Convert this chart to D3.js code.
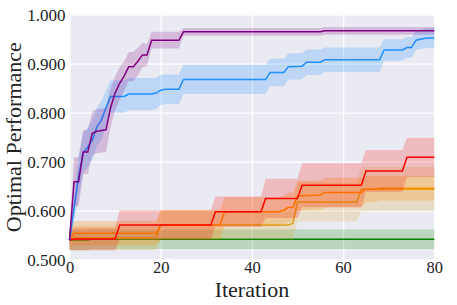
<!DOCTYPE html>
<html lang="en">
<head>
<meta charset="UTF-8">
<title>Optimal Performance</title>
<script src="https://cdn.jsdelivr.net/npm/d3@7"></script>
<style>
  body { margin: 0; background: #fff; }
</style>
</head>
<body>
<svg id="chart" width="457" height="305"></svg>
<script>
// vertices of each mean curve: [iteration, value, band half-width]
var greenPts = [[0,0.540,0.02],[4,0.540,0.02],[5,0.5416,0.02],[80,0.5416,0.02]];
var goldPts = [[0,0.540,0.02],[1,0.545,0.025],[19,0.545,0.025],[20,0.571,0.03],[48,0.571,0.03],[49,0.574,0.035],[50,0.618,0.04],[63,0.618,0.04],[64,0.644,0.045],[80,0.644,0.045]];
var orangePts = [[0,0.540,0.02],[1,0.554,0.025],[19,0.554,0.025],[20,0.571,0.03],[33,0.571,0.03],[34,0.598,0.03],[46,0.598,0.03],[47,0.601,0.03],[48,0.607,0.03],[49,0.607,0.03],[50,0.630,0.03],[55,0.632,0.03],[56,0.637,0.03],[64,0.637,0.03],[65,0.644,0.027],[67,0.644,0.027],[68,0.646,0.025],[80,0.646,0.025]];
var redPts = [[0,0.540,0.02],[1,0.542,0.023],[10,0.542,0.023],[11,0.571,0.03],[31,0.571,0.03],[32,0.598,0.031],[42,0.598,0.031],[43,0.625,0.04],[50,0.625,0.04],[51,0.652,0.045],[64,0.652,0.045],[65,0.681,0.043],[73,0.681,0.043],[74,0.709,0.04],[80,0.709,0.04]];
var bluePts = [[0,0.540,0.01],[2,0.670,0.04],[3,0.718,0.04],[4,0.730,0.04],[5,0.744,0.04],[6,0.771,0.04],[7,0.785,0.04],[8,0.810,0.035],[9,0.833,0.033],[12,0.833,0.033],[13,0.838,0.033],[18,0.838,0.033],[19,0.840,0.032],[20,0.846,0.031],[21,0.848,0.03],[24,0.848,0.03],[25,0.868,0.03],[43,0.868,0.03],[44,0.882,0.028],[47,0.882,0.028],[48,0.894,0.027],[51,0.895,0.027],[52,0.903,0.026],[55,0.903,0.026],[56,0.908,0.025],[68,0.908,0.025],[69,0.928,0.022],[73,0.928,0.022],[74,0.933,0.021],[75,0.933,0.021],[76,0.948,0.02],[78,0.952,0.02],[80,0.953,0.02]];
var purplePts = [[0,0.540,0.01],[1,0.659,0.05],[2,0.659,0.05],[3,0.720,0.045],[4,0.720,0.045],[5,0.758,0.045],[6,0.762,0.045],[8,0.765,0.045],[9,0.810,0.04],[10,0.840,0.035],[11,0.860,0.033],[12,0.875,0.03],[13,0.894,0.03],[14,0.894,0.03],[15,0.905,0.028],[16,0.918,0.025],[17,0.918,0.022],[18,0.948,0.017],[24,0.948,0.017],[25,0.965,0.008],[55,0.965,0.008],[56,0.967,0.008],[80,0.967,0.008]];

var series = [
  {pts: greenPts, color: "#008000", alpha: 0.2},
  {pts: goldPts, color: "#DAA520", alpha: 0.2},
  {pts: orangePts, color: "#FF8C00", alpha: 0.25},
  {pts: redPts, color: "#FF0000", alpha: 0.2},
  {pts: bluePts, color: "#1E90FF", alpha: 0.22},
  {pts: purplePts, color: "#800080", alpha: 0.2}
];

var xTicks = [0, 20, 40, 60, 80];
var yTicks = [0.5, 0.6, 0.7, 0.8, 0.9, 1.0];

var serif = "'Liberation Serif', 'Times New Roman', Times, serif";

var svg = d3.select("#chart");
var plotL = 69.5, plotR = 434.3, plotT = 14.7, plotB = 259.7;

var x = d3.scaleLinear().domain([0, 80]).range([plotL, plotR]);
var y = d3.scaleLinear().domain([0.5, 1.0]).range([plotB, plotT]);

svg.append("rect")
  .attr("x", plotL).attr("y", plotT)
  .attr("width", plotR - plotL).attr("height", plotB - plotT)
  .attr("fill", "#EAEAF2");

// grid
var gx = svg.append("g")
  .attr("transform", "translate(0," + plotB + ")")
  .call(d3.axisBottom(x).tickValues(xTicks).tickSize(-(plotB - plotT)).tickPadding(3));
gx.attr("font-family", serif).attr("font-size", 16.5);
gx.select(".domain").remove();
gx.selectAll("line").attr("stroke", "#fff").attr("stroke-width", 1.3);
gx.selectAll("text").attr("fill", "#222").attr("dy", "0.64em");

var gy = svg.append("g")
  .attr("transform", "translate(" + plotL + ",0)")
  .call(d3.axisLeft(y).tickValues(yTicks).tickFormat(d3.format(".3f")).tickSize(-(plotR - plotL)).tickPadding(4));
gy.attr("font-family", serif).attr("font-size", 17);
gy.select(".domain").remove();
gy.selectAll("line").attr("stroke", "#fff").attr("stroke-width", 1.3);
gy.selectAll("text").attr("fill", "#222");

var area = d3.area()
  .x(function (d) { return x(d[0]); })
  .y0(function (d) { return y(d[1] - d[2]); })
  .y1(function (d) { return y(d[1] + d[2]); });

var line = d3.line()
  .x(function (d) { return x(d[0]); })
  .y(function (d) { return y(d[1]); });

var plot = svg.append("g");
series.forEach(function (s) {
  plot.append("path")
    .attr("d", area(s.pts))
    .attr("fill", s.color)
    .attr("fill-opacity", s.alpha);
  plot.append("path")
    .attr("d", line(s.pts))
    .attr("fill", "none")
    .attr("stroke", s.color)
    .attr("stroke-width", 1.5);
});

svg.append("text")
  .attr("x", (plotL + plotR) / 2).attr("y", 297)
  .attr("text-anchor", "middle")
  .attr("font-family", serif)
  .attr("font-size", 22)
  .attr("fill", "#222")
  .text("Iteration");

svg.append("text")
  .attr("transform", "translate(21," + ((plotT + plotB) / 2) + ") rotate(-90)")
  .attr("text-anchor", "middle")
  .attr("font-family", serif)
  .attr("font-size", 22)
  .attr("fill", "#222")
  .text("Optimal Performance");
</script>
</body>
</html>
